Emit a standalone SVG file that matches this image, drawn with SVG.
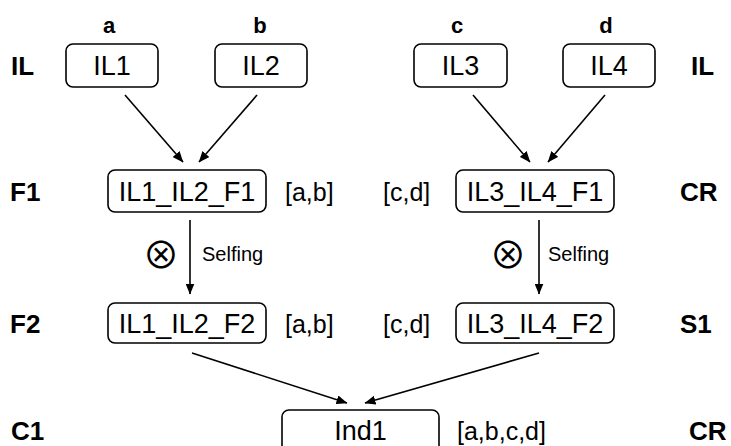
<svg xmlns="http://www.w3.org/2000/svg" width="731" height="446" viewBox="0 0 731 446">
  <style>
    .box { fill: #fff; stroke: #000; stroke-width: 1.6; }
    .bt { font-family: "Liberation Sans", Arial, sans-serif; font-size: 27px; text-anchor: middle; fill: #000; }
    .lab { font-family: "Liberation Sans", Arial, sans-serif; font-size: 26px; font-weight: bold; fill: #000; }
    .par { font-family: "Liberation Sans", Arial, sans-serif; font-size: 22px; font-weight: bold; text-anchor: middle; fill: #000; }
    .gen { font-family: "Liberation Sans", Arial, sans-serif; font-size: 25px; fill: #000; }
    .self { font-family: "Liberation Sans", Arial, sans-serif; font-size: 20px; fill: #000; }
    .sym { font-family: "Noto Sans CJK JP", "DejaVu Sans", sans-serif; font-size: 37px; text-anchor: middle; fill: #000; }
    .edge { stroke: #000; stroke-width: 1.6; fill: none; marker-end: url(#arrow); }
  </style>
  <defs>
    <marker id="arrow" markerUnits="userSpaceOnUse" markerWidth="11" markerHeight="9" refX="10.5" refY="4.5" orient="auto">
      <path d="M0,0 L11,4.5 L0,9 z" fill="#000"/>
    </marker>
  </defs>

  <!-- generation labels -->
  <g id="row-labels">
    <text class="lab" x="11" y="75">IL</text>
    <text class="lab" x="10" y="201">F1</text>
    <text class="lab" x="10" y="333">F2</text>
    <text class="lab" x="11" y="440">C1</text>
    <text class="lab" x="691" y="75">IL</text>
    <text class="lab" x="680" y="201">CR</text>
    <text class="lab" x="680" y="333">S1</text>
    <text class="lab" x="689" y="440">CR</text>
  </g>

  <!-- parent markers -->
  <g id="parent-markers">
    <text class="par" x="109" y="33">a</text>
    <text class="par" x="260" y="33">b</text>
    <text class="par" x="457" y="33">c</text>
    <text class="par" x="606" y="33">d</text>
  </g>

  <!-- connectors -->
  <g id="connectors">
    <line class="edge" x1="125" y1="95" x2="183" y2="162"/>
    <line class="edge" x1="257" y1="95" x2="199" y2="162"/>
    <line class="edge" x1="473" y1="95" x2="530" y2="162"/>
    <line class="edge" x1="605" y1="95" x2="548" y2="162"/>
    <line class="edge" x1="190" y1="220" x2="190" y2="294"/>
    <line class="edge" x1="539" y1="220" x2="539" y2="294"/>
    <line class="edge" x1="192" y1="353" x2="347" y2="403"/>
    <line class="edge" x1="539" y1="353" x2="365" y2="403"/>
    <text class="sym" x="161" y="269">⊗</text>
    <text class="self" x="202" y="261">Selfing</text>
    <text class="sym" x="508" y="269">⊗</text>
    <text class="self" x="548" y="261">Selfing</text>
  </g>

  <!-- inbred lines -->
  <g id="IL1">
    <rect class="box" x="66" y="44" width="92" height="43" rx="7"/>
    <text class="bt" x="112" y="75">IL1</text>
  </g>
  <g id="IL2">
    <rect class="box" x="215" y="44" width="92" height="43" rx="7"/>
    <text class="bt" x="261" y="75">IL2</text>
  </g>
  <g id="IL3">
    <rect class="box" x="414" y="44" width="93" height="43" rx="7"/>
    <text class="bt" x="460.5" y="75">IL3</text>
  </g>
  <g id="IL4">
    <rect class="box" x="563" y="44" width="92" height="43" rx="7"/>
    <text class="bt" x="609" y="75">IL4</text>
  </g>

  <!-- F1 crosses -->
  <g id="IL1_IL2_F1">
    <rect class="box" x="108" y="170" width="158" height="42" rx="7"/>
    <text class="bt" x="187" y="201">IL1_IL2_F1</text>
    <text class="gen" x="285" y="201">[a,b]</text>
  </g>
  <g id="IL3_IL4_F1">
    <rect class="box" x="456" y="170" width="158" height="42" rx="7"/>
    <text class="bt" x="535" y="201">IL3_IL4_F1</text>
    <text class="gen" x="383" y="201">[c,d]</text>
  </g>

  <!-- F2 selfings -->
  <g id="IL1_IL2_F2">
    <rect class="box" x="108" y="303" width="158" height="40" rx="7"/>
    <text class="bt" x="187" y="333">IL1_IL2_F2</text>
    <text class="gen" x="285" y="333">[a,b]</text>
  </g>
  <g id="IL3_IL4_F2">
    <rect class="box" x="456" y="303" width="158" height="40" rx="7"/>
    <text class="bt" x="535" y="333">IL3_IL4_F2</text>
    <text class="gen" x="383" y="333">[c,d]</text>
  </g>

  <!-- final cross -->
  <g id="Ind1">
    <rect class="box" x="282" y="410" width="157" height="50" rx="7"/>
    <text class="bt" x="360.5" y="440">Ind1</text>
    <text class="gen" x="457" y="440">[a,b,c,d]</text>
  </g>
</svg>
